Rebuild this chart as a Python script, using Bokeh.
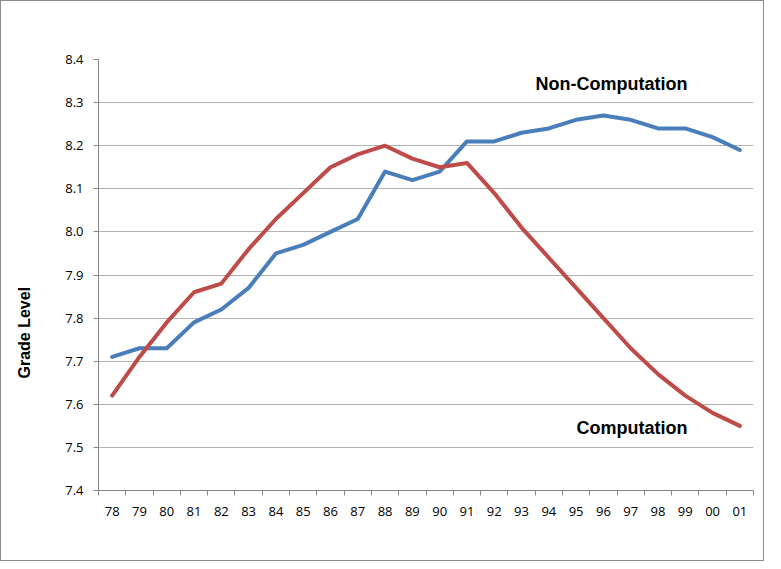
from bokeh.plotting import figure
from bokeh.models import FixedTicker, Label, NumeralTickFormatter, Range1d, Title
from bokeh.embed import file_html
from bokeh.resources import INLINE

years = ["78", "79", "80", "81", "82", "83", "84", "85", "86", "87", "88", "89",
         "90", "91", "92", "93", "94", "95", "96", "97", "98", "99", "00", "01"]
non_computation = [7.71, 7.73, 7.73, 7.79, 7.82, 7.87, 7.95, 7.97, 8.00, 8.03, 8.14, 8.12,
                   8.14, 8.21, 8.21, 8.23, 8.24, 8.26, 8.27, 8.26, 8.24, 8.24, 8.22, 8.19]
computation = [7.62, 7.71, 7.79, 7.86, 7.88, 7.96, 8.03, 8.09, 8.15, 8.18, 8.20, 8.17,
               8.15, 8.16, 8.09, 8.01, 7.94, 7.87, 7.80, 7.73, 7.67, 7.62, 7.58, 7.55]
y_ticks = [7.4, 7.5, 7.6, 7.7, 7.8, 7.9, 8.0, 8.1, 8.2, 8.3, 8.4]

xs = [i + 0.5 for i in range(len(years))]

p = figure(width=764, height=561, output_backend="svg", toolbar_location=None,
           x_range=Range1d(0, len(years)), y_range=Range1d(7.4, 8.4),
           min_border_left=97, min_border_right=12, min_border_top=58,
           min_border_bottom=72)
p.styles = {"border": "1px solid #8c8c8c"}
p.outline_line_color = None
p.background_fill_color = "white"
p.border_fill_color = "white"

font = "Open Sans"
axis_color = "#868686"

# x axis: labels at category centres, ticks at category boundaries
p.xaxis.ticker = FixedTicker(ticks=xs, minor_ticks=list(range(len(years) + 1)))
p.xaxis.major_label_overrides = {x: y for x, y in zip(xs, years)}
p.xaxis.major_tick_out = 0
p.xaxis.major_tick_in = 0
p.xaxis.minor_tick_out = 5
p.xaxis.minor_tick_in = 0
p.xaxis.minor_tick_line_color = axis_color
p.xaxis.axis_line_color = axis_color
p.xaxis.major_label_text_font = font
p.xaxis.major_label_text_font_size = "13px"
p.xaxis.major_label_text_color = "#000000"
p.xaxis.major_label_standoff = 11

p.yaxis.ticker = FixedTicker(ticks=y_ticks)
p.yaxis.formatter = NumeralTickFormatter(format="0.0")
p.yaxis.major_tick_out = 5
p.yaxis.major_tick_in = 0
p.yaxis.minor_tick_line_color = None
p.yaxis.major_tick_line_color = axis_color
p.yaxis.axis_line_color = axis_color
p.yaxis.major_label_text_font = font
p.yaxis.major_label_text_font_size = "13px"
p.yaxis.major_label_text_color = "#000000"
p.yaxis.major_label_standoff = 10

p.xgrid.grid_line_color = None
p.ygrid.ticker = FixedTicker(ticks=y_ticks)
p.ygrid.grid_line_color = "#b3b3b3"
p.ygrid.grid_line_width = 1

p.line(xs, non_computation, line_color="#4a7ebb", line_width=4, line_join="round",
       line_cap="round")
p.line(xs, computation, line_color="#be4b48", line_width=4, line_join="round",
       line_cap="round")

p.add_layout(Label(x=18.8, y=8.342, text="Non-Computation", text_align="center",
                   text_baseline="middle", text_font="Liberation Sans",
                   text_font_style="bold", text_font_size="18px", text_color="#000000"))
p.add_layout(Label(x=19.55, y=7.544, text="Computation", text_align="center",
                   text_baseline="middle", text_font="Liberation Sans",
                   text_font_style="bold", text_font_size="18px", text_color="#000000"))

p.add_layout(Title(text="Grade Level\n ", align="left", offset=112, standoff=25,
                   text_font="Liberation Sans", text_font_style="bold",
                   text_font_size="16px", text_color="#000000"), "left")

open("out.html", "w").write(file_html(p, INLINE))
